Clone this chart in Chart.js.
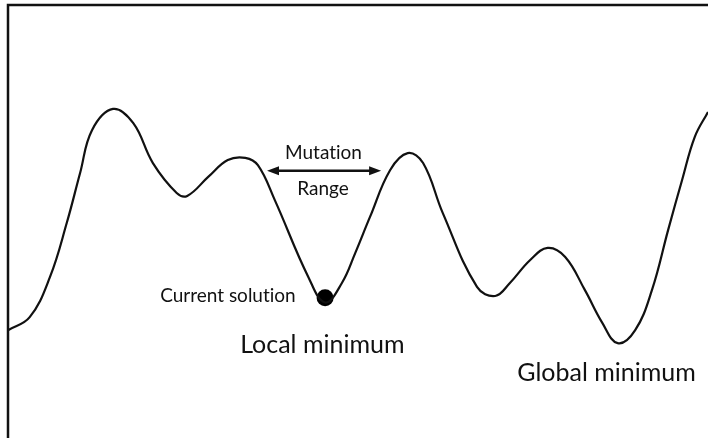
<!DOCTYPE html>
<html>
<head>
<meta charset="utf-8">
<script src="https://cdn.jsdelivr.net/npm/chart.js@4.4.1/dist/chart.umd.min.js"></script>
<style>
  html, body { margin: 0; padding: 0; background: #fff; }
  #wrap { width: 708px; height: 438px; }
</style>
</head>
<body>
<div id="wrap"><canvas id="landscape" width="708" height="438"></canvas></div>
<script>
// Position in the search space (0..100) and height of the landscape (0..100)
const positions = [0, 3.1, 6, 8.4, 10.3, 12, 15, 17.9, 20.7, 24.1, 25.6, 28.6, 31.4, 33.9, 35.7, 38.1,
    42.9, 45.3, 47.7, 49.6, 51.7, 54.6, 57.1, 59.3, 62.1, 67, 69.6, 71.7, 74.6, 77.1,
    79.6, 82.4, 84.9, 87.1, 89.6, 92, 94.3, 96.3, 98.1, 100];
const heights = [24.9, 27.9, 37.2, 49.7, 61.2, 71.1, 76, 72.7, 63.5, 56.6, 55.9, 60.3, 64.2, 64.7, 63, 55,
    37.2, 31.3, 35.8, 42.7, 51, 61.9, 65.8, 63.5, 52, 34.9, 32.8, 35.8, 41.1, 43.9,
    41.8, 34.2, 26.6, 21.9, 24.9, 34.2, 48, 59.6, 69.5, 75.3];

// Where the current solution sits (the black dot)
const currentX = [45.3];
const currentY = [32.4];

// Mutation range around the current solution
const mutationRange = [37, 53.3];

const curve = positions.map((p, i) => ({ x: p, y: heights[i] }));
const dot = currentX.map((p, i) => ({ x: p, y: currentY[i] }));

const FONT = 'Lato, "Noto Sans", sans-serif';

// Draws the frame, the labels and the mutation arrow
const annotations = {
    id: 'annotations',
    afterDatasetsDraw(chart) {
        const { ctx, chartArea, scales } = chart;
        const x = scales.x, y = scales.y;
        ctx.save();

        // Frame: only the left and top edges fall inside the picture
        ctx.strokeStyle = '#111';
        ctx.lineWidth = 2.5;
        ctx.beginPath();
        ctx.moveTo(chartArea.left, chartArea.bottom + 5);
        ctx.lineTo(chartArea.left, chartArea.top);
        ctx.lineTo(chartArea.right + 5, chartArea.top);
        ctx.stroke();

        ctx.fillStyle = '#111';
        ctx.textBaseline = 'alphabetic';

        // Mutation range label and arrow (ZWNJ keeps the "ti" from fusing into a ligature)
        ctx.font = '19px ' + FONT;
        ctx.textAlign = 'center';
        ctx.fillText('Mutat\u200Cion', x.getPixelForValue(45.07), y.getPixelForValue(64.4));
        ctx.fillText('Range', x.getPixelForValue(45), y.getPixelForValue(56.1));

        const ax1 = x.getPixelForValue(mutationRange[0]);
        const ax2 = x.getPixelForValue(mutationRange[1]);
        const ay = y.getPixelForValue(61.7);
        const head = 12, half = 4.5;
        ctx.lineWidth = 2.5;
        ctx.beginPath();
        ctx.moveTo(ax1 + head - 1, ay);
        ctx.lineTo(ax2 - head + 1, ay);
        ctx.stroke();
        ctx.beginPath();
        ctx.moveTo(ax1, ay);
        ctx.lineTo(ax1 + head, ay - half);
        ctx.lineTo(ax1 + head, ay + half);
        ctx.closePath();
        ctx.moveTo(ax2, ay);
        ctx.lineTo(ax2 - head, ay - half);
        ctx.lineTo(ax2 - head, ay + half);
        ctx.closePath();
        ctx.fill();

        // Current solution
        ctx.font = '19px ' + FONT;
        ctx.textAlign = 'right';
        ctx.fillText('Current solut\u200Cion', x.getPixelForValue(41.1), y.getPixelForValue(31.4));

        // Minima
        ctx.font = '25px ' + FONT;
        ctx.textAlign = 'center';
        ctx.fillText('Local minimum', x.getPixelForValue(44.9), y.getPixelForValue(19.6));
        ctx.fillText('Global minimum', x.getPixelForValue(85.5), y.getPixelForValue(13.2));

        ctx.restore();
    }
};

new Chart(document.getElementById('landscape').getContext('2d'), {
    type: 'scatter',
    data: {
        datasets: [
            {
                label: 'Landscape',
                data: curve,
                showLine: true,
                borderColor: '#111',
                borderWidth: 2.2,
                pointRadius: 0,
                tension: 0.4,
                clip: false
            },
            {
                label: 'Current solution',
                data: dot,
                pointRadius: 8.5,
                pointBackgroundColor: '#000',
                pointBorderWidth: 0,
                clip: false
            }
        ]
    },
    options: {
        responsive: false,
        animation: false,
        layout: { autoPadding: false, padding: { left: 8, top: 5, right: 0, bottom: 0 } },
        elements: { line: { capBezierPoints: false } },
        plugins: {
            legend: { display: false },
            tooltip: { enabled: false }
        },
        scales: {
            x: { type: 'linear', min: 0, max: 100, display: false },
            y: { type: 'linear', min: 0, max: 100, display: false }
        }
    },
    plugins: [annotations]
});
</script>
</body>
</html>
